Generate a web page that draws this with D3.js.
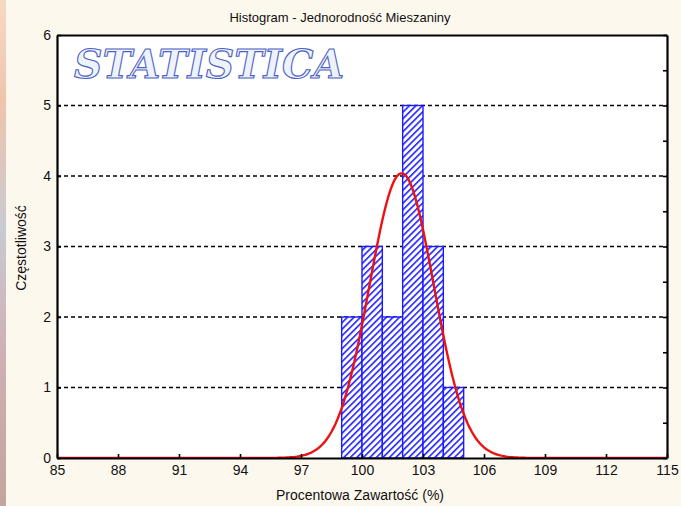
<!DOCTYPE html>
<html>
<head>
<meta charset="utf-8">
<title>Histogram - Jednorodność Mieszaniny</title>
<script src="https://d3js.org/d3.v7.min.js"></script>
<style>
  body { margin: 0; background: #fdf8ee; }
  svg { display: block; font-family: "Liberation Sans", Arial, sans-serif; }
</style>
</head>
<body>
<svg width="681" height="506"></svg>
<script>
// histogram bins (lower edge) and counts
var binStart = [99, 100, 101, 102, 103, 104];
var counts = [2, 3, 2, 5, 3, 1];
var binWidth = 1;
var xTicks = [85, 88, 91, 94, 97, 100, 103, 106, 109, 112, 115];
var yTicks = [0, 1, 2, 3, 4, 5, 6];
// fitted normal curve parameters
var fitMean = 101.95, fitSd = 1.58;

var svg = d3.select("svg");
var pLeft = 57, pRight = 667, pTop = 35, pBottom = 458;

var x = d3.scaleLinear().domain([85, 115]).range([pLeft, pRight]);
var y = d3.scaleLinear().domain([0, 6]).range([pBottom, pTop]);

var defs = svg.append("defs");
var grad = defs.append("linearGradient").attr("id", "edge")
  .attr("x1", 0).attr("y1", 0).attr("x2", 0).attr("y2", 1);
grad.append("stop").attr("offset", "0%").attr("stop-color", "#f7d9c4");
grad.append("stop").attr("offset", "20%").attr("stop-color", "#f0c4ad");
grad.append("stop").attr("offset", "45%").attr("stop-color", "#c9cad2");
grad.append("stop").attr("offset", "70%").attr("stop-color", "#cfb0b4");
grad.append("stop").attr("offset", "100%").attr("stop-color", "#c4a49e");

var hatch = defs.append("pattern").attr("id", "hatch")
  .attr("patternUnits", "userSpaceOnUse").attr("width", 4.6).attr("height", 4.6)
  .attr("patternTransform", "rotate(45)");
hatch.append("rect").attr("width", 4.6).attr("height", 4.6).attr("fill", "#fff");
hatch.append("line").attr("x1", 0.8).attr("y1", 0).attr("x2", 0.8).attr("y2", 4.6)
  .attr("stroke", "#1010ff").attr("stroke-width", 1.5);

defs.append("clipPath").attr("id", "plotclip").append("rect")
  .attr("x", pLeft).attr("y", pTop).attr("width", pRight - pLeft).attr("height", pBottom - pTop);

// left edge stripe
svg.append("rect").attr("x", 0).attr("y", 0).attr("width", 6).attr("height", 506)
  .attr("fill", "url(#edge)");

// plot background
svg.append("rect").attr("x", pLeft).attr("y", pTop)
  .attr("width", pRight - pLeft).attr("height", pBottom - pTop).attr("fill", "#fff");

// logo
svg.append("text").attr("x", 74).attr("y", 78)
  .attr("textLength", 270).attr("lengthAdjust", "spacingAndGlyphs")
  .style("font-family", "'DejaVu Serif', serif").style("font-style", "italic")
  .style("font-weight", "bold").style("font-size", "40px")
  .attr("fill", "#eef2fa").attr("stroke", "#4c62c4").attr("stroke-width", 1.1)
  .text("STATISTICA");

// grid lines
svg.append("g").selectAll("line").data(yTicks.filter(function(d) { return d > 0 && d < 6; }))
  .enter().append("line")
  .attr("x1", pLeft).attr("x2", pRight)
  .attr("y1", function(d) { return y(d); }).attr("y2", function(d) { return y(d); })
  .attr("stroke", "#000").attr("stroke-width", 1.6).attr("stroke-dasharray", "4,3");

// bars
svg.append("g").selectAll("rect").data(binStart).enter().append("rect")
  .attr("x", function(d) { return x(d); })
  .attr("y", function(d, i) { return y(counts[i]); })
  .attr("width", function(d) { return x(d + binWidth) - x(d); })
  .attr("height", function(d, i) { return y(0) - y(counts[i]); })
  .attr("fill", "url(#hatch)")
  .attr("stroke", "#1a1aff").attr("stroke-width", 1.4);

// normal curve
var n = d3.sum(counts);
var pts = d3.range(85, 115.01, 0.1).map(function(v) {
  var z = (v - fitMean) / fitSd;
  return [v, n * binWidth / (fitSd * Math.sqrt(2 * Math.PI)) * Math.exp(-0.5 * z * z)];
});
svg.append("path").datum(pts)
  .attr("clip-path", "url(#plotclip)")
  .attr("d", d3.line().x(function(d) { return x(d[0]); }).y(function(d) { return y(d[1]); }))
  .attr("fill", "none").attr("stroke", "#ee1111").attr("stroke-width", 2.4);

// axes
var xAxis = svg.append("g").attr("transform", "translate(0," + pBottom + ")")
  .call(d3.axisBottom(x).tickValues(xTicks).tickSizeInner(-4).tickSizeOuter(0).tickPadding(9));
var yAxis = svg.append("g").attr("transform", "translate(" + pLeft + ",0)")
  .call(d3.axisLeft(y).tickValues(yTicks).tickFormat(d3.format("d"))
    .tickSizeInner(-4).tickSizeOuter(0).tickPadding(9));
var yRight = svg.append("g").attr("transform", "translate(" + pRight + ",0)")
  .call(d3.axisRight(y).tickValues(d3.range(0, 6.01, 0.5)).tickSizeInner(-4).tickSizeOuter(0).tickFormat(""));
var xTop = svg.append("g").attr("transform", "translate(0," + pTop + ")")
  .call(d3.axisTop(x).tickValues([]).tickSizeOuter(0));

[xAxis, yAxis, yRight, xTop].forEach(function(g) {
  g.select(".domain").attr("stroke", "#000").attr("stroke-width", 2.2);
  g.selectAll(".tick line").attr("stroke", "#000").attr("stroke-width", 1.6);
  g.selectAll(".tick text").attr("fill", "#111").style("font-size", "14px")
    .style("font-family", "'Liberation Sans', Arial, sans-serif");
});
xAxis.selectAll(".tick text").attr("y", 4).attr("dy", "0.95em");
yAxis.selectAll(".tick text").attr("x", -6);

// titles
svg.append("text").attr("x", 340).attr("y", 22).attr("text-anchor", "middle")
  .style("font-size", "13px").attr("fill", "#111").text("Histogram - Jednorodność Mieszaniny");
svg.append("text").attr("x", 360).attr("y", 500).attr("text-anchor", "middle")
  .style("font-size", "14px").attr("fill", "#111").text("Procentowa Zawartość (%)");
svg.append("text").attr("transform", "translate(26,248) rotate(-90)").attr("text-anchor", "middle")
  .style("font-size", "14px").attr("fill", "#111").text("Częstotliwość");
</script>
</body>
</html>
